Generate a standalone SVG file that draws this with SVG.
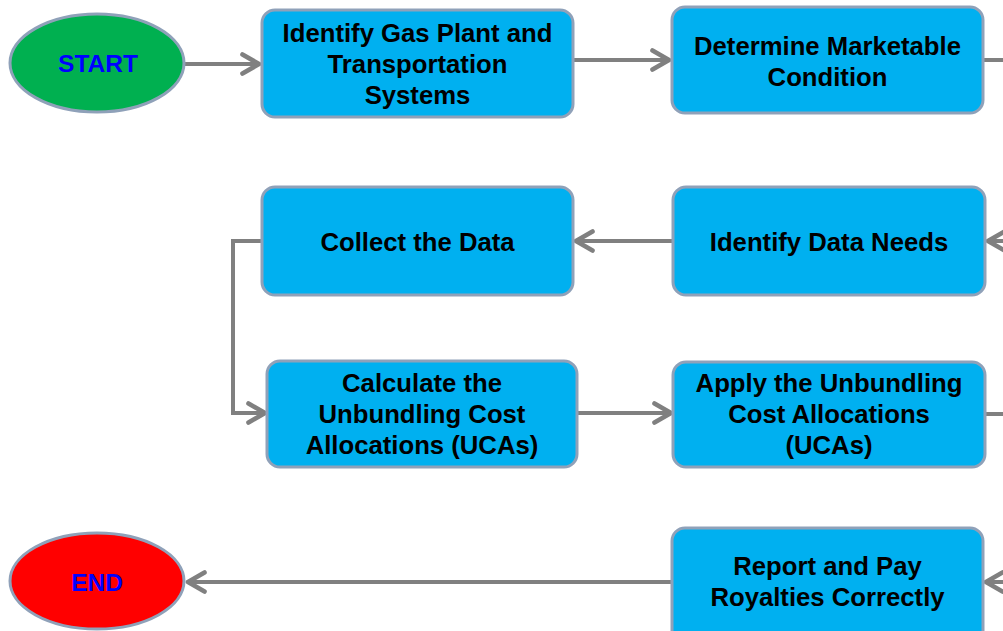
<svg xmlns="http://www.w3.org/2000/svg" width="1003" height="631" viewBox="0 0 1003 631">
  <style>
    .box { fill: #00B0F0; stroke: #8FA1B9; stroke-width: 3; }
    .term { stroke: #8FA1B9; stroke-width: 3; }
    .lbl { font-family: "Liberation Sans", Arial, sans-serif; font-weight: bold; font-size: 25.7px; fill: #000; text-anchor: middle; }
    .tlbl { font-family: "Liberation Sans", Arial, sans-serif; font-weight: bold; font-size: 24.5px; fill: #0000FF; text-anchor: middle; }
    .conn { fill: none; stroke: #808080; stroke-width: 4; }
  </style>
  <defs>
    <marker id="chev" viewBox="0 0 22 24" refX="19" refY="12" markerWidth="22" markerHeight="24" orient="auto" markerUnits="userSpaceOnUse">
      <path d="M2.5,2.5 L19,12 L2.5,21.5" fill="none" stroke="#808080" stroke-width="4.6" stroke-linecap="round" stroke-linejoin="round"/>
    </marker>
  </defs>

  <rect width="1003" height="631" fill="#FFFFFF"/>

  <!-- connectors -->
  <g id="connectors" class="conn">
    <path d="M185,64 H259" marker-end="url(#chev)"/>
    <path d="M573,60 H669" marker-end="url(#chev)"/>
    <path d="M983,60 H1003"/>
    <path d="M1003,241 H988" marker-end="url(#chev)"/>
    <path d="M673,241 H576" marker-end="url(#chev)"/>
    <path d="M262,241 H233 V413 H265" stroke-linejoin="miter"/>
    <path d="M245,413 H265" marker-end="url(#chev)"/>
    <path d="M577,413 H671" marker-end="url(#chev)"/>
    <path d="M985,414 H1003"/>
    <path d="M1003,582 H986" marker-end="url(#chev)"/>
    <path d="M672,582 H188" marker-end="url(#chev)"/>
  </g>

  <!-- nodes -->
  <g id="start">
    <ellipse class="term" cx="97" cy="63" rx="87" ry="49" fill="#00B050"/>
    <text class="tlbl" x="98" y="72">START</text>
  </g>

  <g id="identify-gas-plant">
    <rect class="box" x="262" y="10" width="311" height="107" rx="13"/>
    <text class="lbl" x="417.5" y="42">Identify Gas Plant and</text>
    <text class="lbl" x="417.5" y="73">Transportation</text>
    <text class="lbl" x="417.5" y="104">Systems</text>
  </g>

  <g id="determine-marketable">
    <rect class="box" x="672" y="7" width="311" height="106" rx="13"/>
    <text class="lbl" x="827.5" y="55">Determine Marketable</text>
    <text class="lbl" x="827.5" y="86">Condition</text>
  </g>

  <g id="identify-data-needs">
    <rect class="box" x="673" y="187" width="312" height="108" rx="13"/>
    <text class="lbl" x="829" y="251">Identify Data Needs</text>
  </g>

  <g id="collect-data">
    <rect class="box" x="262" y="187" width="311" height="108" rx="13"/>
    <text class="lbl" x="417.5" y="251">Collect the Data</text>
  </g>

  <g id="calculate-ucas">
    <rect class="box" x="267" y="361" width="310" height="106" rx="13"/>
    <text class="lbl" x="422" y="392">Calculate the</text>
    <text class="lbl" x="422" y="423">Unbundling Cost</text>
    <text class="lbl" x="422" y="454">Allocations (UCAs)</text>
  </g>

  <g id="apply-ucas">
    <rect class="box" x="673" y="362" width="312" height="105" rx="13"/>
    <text class="lbl" x="829" y="392">Apply the Unbundling</text>
    <text class="lbl" x="829" y="423">Cost Allocations</text>
    <text class="lbl" x="829" y="454">(UCAs)</text>
  </g>

  <g id="report-pay">
    <rect class="box" x="672" y="528" width="311" height="120" rx="13"/>
    <text class="lbl" x="827.5" y="575">Report and Pay</text>
    <text class="lbl" x="827.5" y="606">Royalties Correctly</text>
  </g>

  <g id="end">
    <ellipse class="term" cx="97" cy="581" rx="87" ry="48" fill="#FF0000"/>
    <text class="tlbl" x="97" y="591">END</text>
  </g>
</svg>
